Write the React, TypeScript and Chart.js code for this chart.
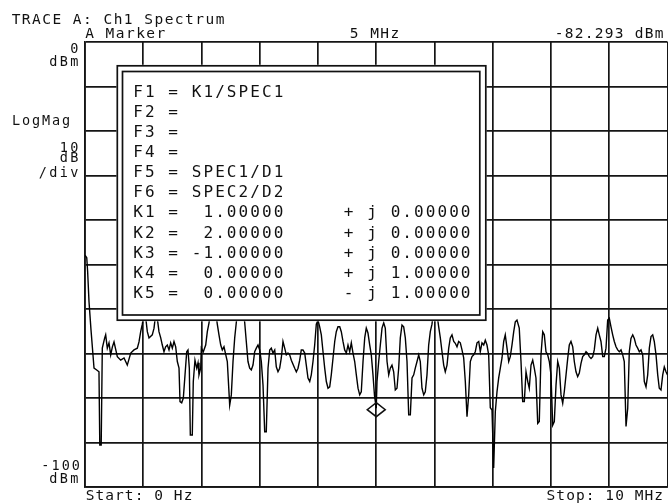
import React, { useEffect, useRef } from "react";
import { Chart, registerables } from "chart.js";

Chart.register(...registerables);

// ---- data (frequency in MHz, level in dBm) ----
const freqMHz = [
  0.0, 0.03, 0.045, 0.069, 0.103, 0.155, 0.201, 0.24, 0.254, 0.278, 0.297, 0.338, 0.355, 0.383, 0.412, 0.441,
  0.47, 0.498, 0.555, 0.613, 0.67, 0.726, 0.785, 0.841, 0.898, 0.927, 0.956, 0.984, 1.025, 1.07, 1.099, 1.155,
  1.185, 1.219, 1.25, 1.27, 1.3, 1.327, 1.356, 1.384, 1.413, 1.442, 1.471, 1.499, 1.528, 1.557, 1.585, 1.614,
  1.631, 1.66, 1.688, 1.717, 1.746, 1.768, 1.791, 1.808, 1.842, 1.859, 1.888, 1.918, 1.94, 1.957, 1.986, 1.997,
  2.031, 2.072, 2.1, 2.129, 2.163, 2.197, 2.232, 2.271, 2.3, 2.33, 2.357, 2.386, 2.443, 2.484, 2.512, 2.541,
  2.57, 2.597, 2.635, 2.67, 2.704, 2.742, 2.769, 2.798, 2.827, 2.855, 2.884, 2.913, 2.941, 2.97, 2.999, 3.027,
  3.056, 3.085, 3.112, 3.142, 3.171, 3.198, 3.227, 3.257, 3.284, 3.313, 3.342, 3.37, 3.399, 3.428, 3.456, 3.485,
  3.514, 3.542, 3.6, 3.628, 3.657, 3.686, 3.713, 3.742, 3.772, 3.799, 3.828, 3.858, 3.885, 3.914, 3.943, 3.971,
  4.0, 4.029, 4.057, 4.086, 4.115, 4.143, 4.172, 4.201, 4.228, 4.258, 4.287, 4.314, 4.343, 4.373, 4.4, 4.429,
  4.458, 4.486, 4.515, 4.544, 4.572, 4.601, 4.63, 4.658, 4.687, 4.716, 4.743, 4.773, 4.802, 4.829, 4.858, 4.888,
  4.915, 4.944, 4.97, 5.0, 5.013, 5.042, 5.07, 5.099, 5.128, 5.155, 5.185, 5.214, 5.241, 5.27, 5.299, 5.327,
  5.356, 5.385, 5.413, 5.442, 5.471, 5.499, 5.528, 5.557, 5.585, 5.614, 5.643, 5.67, 5.7, 5.729, 5.756, 5.785,
  5.815, 5.842, 5.871, 5.9, 5.928, 5.957, 5.991, 6.026, 6.072, 6.1, 6.129, 6.158, 6.185, 6.215, 6.244, 6.271,
  6.3, 6.33, 6.357, 6.386, 6.415, 6.443, 6.472, 6.501, 6.529, 6.558, 6.587, 6.615, 6.644, 6.673, 6.7, 6.73,
  6.759, 6.786, 6.815, 6.845, 6.872, 6.901, 6.93, 6.958, 6.987, 7.016, 7.044, 7.073, 7.102, 7.13, 7.159, 7.188,
  7.215, 7.245, 7.274, 7.301, 7.33, 7.36, 7.387, 7.416, 7.455, 7.485, 7.514, 7.542, 7.571, 7.601, 7.627, 7.657,
  7.686, 7.713, 7.742, 7.772, 7.799, 7.828, 7.858, 7.885, 7.914, 7.943, 7.971, 8.0, 8.029, 8.057, 8.086, 8.115,
  8.143, 8.172, 8.201, 8.228, 8.258, 8.287, 8.314, 8.343, 8.373, 8.4, 8.429, 8.458, 8.486, 8.515, 8.544, 8.572,
  8.601, 8.63, 8.658, 8.687, 8.716, 8.743, 8.773, 8.802, 8.829, 8.858, 8.888, 8.915, 8.944, 8.973, 9.001, 9.03,
  9.059, 9.087, 9.116, 9.145, 9.173, 9.202, 9.231, 9.258, 9.288, 9.317, 9.344, 9.373, 9.403, 9.43, 9.459, 9.488,
  9.516, 9.545, 9.574, 9.602, 9.631, 9.66, 9.688, 9.717, 9.746, 9.773, 9.803, 9.832, 9.859, 9.888, 9.918, 9.945,
  9.974, 10.0,
];

const levelDbm = [
  -47.9, -48.5, -51.5, -58.4, -64.7, -73.3, -73.7, -74.1, -90.6, -90.6, -68.8, -66.5, -65.8, -68.8, -67.6, -70.3,
  -68.5, -67.4, -70.7, -71.5, -71.0, -72.6, -69.9, -69.2, -68.8, -67.4, -65.1, -63.4, -60.0, -65.1, -66.5, -65.8,
  -64.3, -60.5, -63.0, -65.1, -66.5, -68.1, -69.6, -68.5, -68.1, -69.2, -67.6, -68.8, -67.3, -68.5, -71.8, -73.3,
  -80.8, -81.1, -80.0, -74.8, -69.6, -69.2, -73.3, -88.3, -88.3, -76.3, -71.5, -73.3, -72.1, -74.8, -73.3, -68.8,
  -69.6, -68.1, -65.1, -63.1, -59.5, -61.5, -59.5, -63.4, -65.8, -68.1, -69.2, -68.5, -71.8, -81.6, -79.3, -71.8,
  -66.5, -63.1, -58.5, -61.0, -58.5, -63.1, -67.3, -71.8, -73.3, -73.7, -72.6, -69.6, -68.8, -68.1, -69.2, -71.8,
  -77.1, -87.6, -87.6, -73.3, -69.2, -68.8, -69.9, -69.2, -73.0, -74.1, -73.3, -71.0, -67.3, -68.8, -70.3, -69.9,
  -70.3, -71.5, -73.3, -74.1, -73.3, -71.5, -69.2, -69.2, -69.9, -72.6, -75.5, -76.3, -74.8, -71.8, -68.1, -63.4,
  -62.5, -64.0, -65.8, -69.6, -73.3, -76.3, -77.8, -77.5, -74.8, -71.0, -67.3, -65.1, -64.0, -64.0, -65.1, -67.3,
  -69.2, -69.9, -68.1, -69.6, -67.6, -69.9, -71.8, -74.8, -77.8, -79.3, -78.6, -71.8, -66.5, -64.3, -65.4, -68.1,
  -70.3, -74.8, -79.5, -82.3, -76.3, -71.8, -68.1, -64.3, -63.1, -64.3, -71.8, -74.8, -73.3, -72.6, -74.1, -78.2,
  -77.8, -73.3, -66.5, -63.6, -64.0, -66.5, -71.8, -83.8, -83.8, -75.5, -74.8, -73.3, -71.8, -70.3, -71.8, -77.8,
  -79.3, -78.6, -74.8, -68.1, -65.1, -63.4, -59.5, -59.5, -64.0, -66.5, -69.6, -72.6, -74.1, -72.6, -68.8, -66.5,
  -65.8, -67.3, -67.7, -68.5, -67.3, -67.6, -69.2, -71.0, -76.3, -84.2, -79.3, -71.8, -70.7, -70.3, -69.6, -67.6,
  -67.3, -69.6, -67.6, -68.1, -67.0, -68.1, -70.3, -82.2, -82.7, -95.7, -83.1, -78.6, -75.5, -73.3, -71.0, -67.3,
  -65.8, -68.8, -71.8, -70.7, -68.1, -65.1, -62.9, -62.5, -64.3, -71.8, -80.8, -80.8, -74.1, -76.3, -77.8, -72.6,
  -71.5, -73.3, -75.5, -85.7, -85.3, -70.3, -65.1, -65.8, -69.6, -70.3, -71.8, -74.8, -86.1, -85.3, -77.1, -71.8,
  -73.3, -79.3, -81.2, -78.6, -74.8, -71.1, -68.1, -67.3, -68.5, -71.8, -74.1, -75.2, -74.4, -72.2, -70.7, -70.3,
  -69.6, -70.0, -70.7, -71.1, -70.7, -69.2, -65.8, -64.3, -65.8, -67.3, -70.7, -70.7, -68.8, -62.5, -62.1, -64.0,
  -65.8, -67.3, -68.5, -69.2, -69.6, -69.2, -70.3, -71.8, -86.4, -82.3, -69.6, -66.6, -65.8, -66.6, -68.1, -68.8,
  -69.6, -69.2, -70.3, -76.3, -77.5, -74.8, -68.8, -66.2, -65.8, -67.3, -70.3, -74.8, -77.8, -78.2, -74.8, -73.0,
  -74.1, -74.8,
];

const freqStartMHz = 0;
const freqStopMHz = 10;
const freqStepMHz = 1;
const refLevelDbm = 0;
const bottomLevelDbm = -100;
const dbPerDiv = 10;

const markerFreq = 5;
const markerLevel = -82.293;

const titleText = "TRACE A: Ch1 Spectrum";
const markerTitle = "A Marker";
const markerFreqText = "5 MHz";
const markerValueText = "-82.293 dBm";
const startText = "Start: 0 Hz";
const stopText = "Stop: 10 MHz";

const boxLines = [
  "F1 = K1/SPEC1",
  "F2 =",
  "F3 =",
  "F4 =",
  "F5 = SPEC1/D1",
  "F6 = SPEC2/D2",
  "K1 =  1.00000     + j 0.00000",
  "K2 =  2.00000     + j 0.00000",
  "K3 = -1.00000     + j 0.00000",
  "K4 =  0.00000     + j 1.00000",
  "K5 =  0.00000     - j 1.00000",
];

const MONO = '"DejaVu Sans Mono", "Liberation Mono", monospace';
const INK = "#111";

function mono(
  ctx: CanvasRenderingContext2D,
  text: string,
  x: number,
  y: number,
  adv: number,
  size: number,
  align: "left" | "right" = "left"
) {
  ctx.save();
  ctx.font = `${size}px ${MONO}`;
  ctx.fillStyle = INK;
  ctx.textAlign = "center";
  ctx.textBaseline = "alphabetic";
  const w = text.length * adv;
  const x0 = align === "right" ? x - w : x;
  for (let i = 0; i < text.length; i++) {
    const c = text[i];
    if (c !== " ") ctx.fillText(c, x0 + adv * i + adv / 2, y);
  }
  ctx.restore();
}

const overlayPlugin = {
  id: "analyzerOverlay",
  afterDatasetsDraw(chart: any) {
    const ctx: CanvasRenderingContext2D = chart.ctx;
    // function box
    ctx.save();
    ctx.fillStyle = "#fff";
    ctx.fillRect(116.5, 64.8, 370, 256.5);
    ctx.strokeStyle = INK;
    ctx.lineWidth = 1.7;
    ctx.strokeRect(117.3, 65.8, 368.5, 254.4);
    ctx.strokeRect(122.5, 71.5, 357.3, 243.5);
    ctx.restore();
    boxLines.forEach((line, i) => {
      mono(ctx, line, 132.2, 96.8 + 20.1 * i, 11.7, 16);
    });
    // marker diamond
    const xs = chart.scales.x;
    const ys = chart.scales.y;
    const mx = xs.getPixelForValue(markerFreq);
    const my = ys.getPixelForValue(markerLevel) + 1.5;
    ctx.save();
    ctx.strokeStyle = INK;
    ctx.lineWidth = 1.5;
    ctx.beginPath();
    ctx.moveTo(mx, my - 7);
    ctx.lineTo(mx + 9, my);
    ctx.lineTo(mx, my + 7);
    ctx.lineTo(mx - 9, my);
    ctx.closePath();
    ctx.stroke();
    ctx.restore();
  },
  afterDraw(chart: any) {
    const ctx: CanvasRenderingContext2D = chart.ctx;
    mono(ctx, titleText, 10.9, 24, 10.2, 14.5);
    mono(ctx, markerTitle, 84.4, 37.5, 10.2, 14.5);
    mono(ctx, markerFreqText, 349, 37.5, 10.2, 14.5);
    mono(ctx, markerValueText, 554, 37.5, 10, 14.5);
    mono(ctx, String(refLevelDbm), 79.5, 53, 10.5, 13.5, "right");
    mono(ctx, "dBm", 79.5, 65.5, 10.5, 13.5, "right");
    mono(ctx, "LogMag", 11, 125, 10, 13.5);
    mono(ctx, String(dbPerDiv), 79.5, 151.5, 10.5, 13.5, "right");
    mono(ctx, "dB", 79.5, 161.5, 10.5, 13.5, "right");
    mono(ctx, "/div", 79.5, 176.5, 10.5, 13.5, "right");
    mono(ctx, String(bottomLevelDbm), 81, 470, 10.2, 13.5, "right");
    mono(ctx, "dBm", 79.5, 483, 10.5, 13.5, "right");
    mono(ctx, startText, 85.1, 500, 9.8, 14.5);
    mono(ctx, stopText, 546, 500, 9.8, 14.5);
  },
};

export default function App() {
  const ref = useRef<HTMLCanvasElement | null>(null);
  useEffect(() => {
    document.body.style.margin = "0";
    const canvas = ref.current;
    if (!canvas) return;
    const gridColor = "#151515";
    const chart = new Chart(canvas, {
      type: "line",
      data: {
        datasets: [
          {
            data: freqMHz.map((f, i) => ({ x: f, y: levelDbm[i] })),
            borderColor: "#000",
            borderWidth: 1.4,
            pointRadius: 0,
            tension: 0,
            fill: false,
          },
        ],
      },
      options: {
        responsive: false,
        animation: false,
        devicePixelRatio: 1,
        layout: { padding: { left: 85, top: 42, right: 0.5, bottom: 17 } },
        plugins: { legend: { display: false }, tooltip: { enabled: false } },
        scales: {
          x: {
            type: "linear",
            min: freqStartMHz,
            max: freqStopMHz,
            ticks: { display: false, stepSize: freqStepMHz },
            grid: { color: gridColor, lineWidth: 1.7, drawTicks: false },
            border: { display: true, color: gridColor, width: 1.7 },
          },
          y: {
            type: "linear",
            min: bottomLevelDbm,
            max: refLevelDbm,
            ticks: { display: false, stepSize: dbPerDiv },
            grid: { color: gridColor, lineWidth: 1.7, drawTicks: false },
            border: { display: true, color: gridColor, width: 1.7 },
          },
        },
      },
      plugins: [overlayPlugin],
    } as any);
    return () => chart.destroy();
  }, []);
  return (
    <div style={{ position: "fixed", left: 0, top: 0, width: 668, height: 504, background: "#fff" }}>
      <canvas ref={ref} width={668} height={504} style={{ display: "block", width: 668, height: 504 }} />
    </div>
  );
}
